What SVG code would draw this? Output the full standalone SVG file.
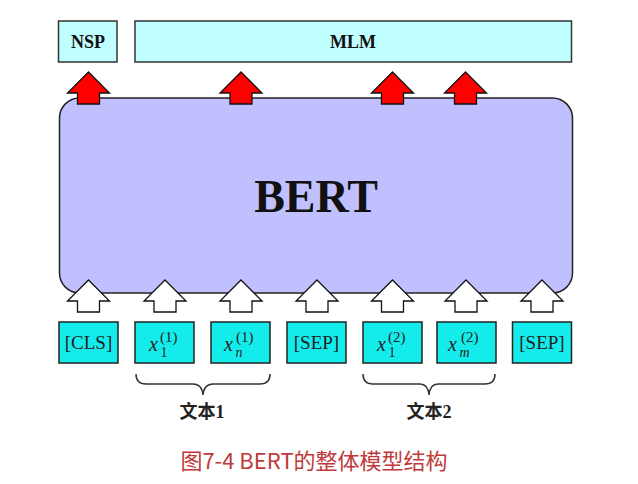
<svg xmlns="http://www.w3.org/2000/svg" xmlns:xlink="http://www.w3.org/1999/xlink" width="638" height="484" viewBox="0 0 638 484">
<style>
.task{fill:#c0ffff;stroke:#333;stroke-width:1.5}
.tok{fill:#14ecec;stroke:#222;stroke-width:1.5}
.bert{fill:#c0c0ff;stroke:#222;stroke-width:1.5}
.tt{font-family:"Liberation Serif",serif;font-weight:bold;fill:#111;text-anchor:middle}
.tk{font-family:"Liberation Serif",serif;font-size:19px;fill:#222;text-anchor:middle}
.mx{font-family:"Liberation Serif",serif;font-style:italic;fill:#222}
.mn{font-family:"Liberation Serif",serif;fill:#222}
.red{fill:#ff0000;stroke:#111;stroke-width:1.3}
.wht{fill:#ffffff;stroke:#111;stroke-width:1.3}
.brace{fill:none;stroke:#333;stroke-width:1.5}
.lbl{font-family:"Liberation Serif","Noto Sans CJK SC",serif;font-weight:bold;font-size:18px;fill:#222;text-anchor:middle}
.cap{font-family:"Noto Sans CJK SC","Noto Sans",sans-serif;font-size:22px;fill:#c0393b;text-anchor:middle}
</style>
<defs>
<path id="arr" d="M0,0 L21,21 L11,21 L11,32 L-11,32 L-11,21 L-21,21 Z"/>
</defs>
<g id="nsp"><rect class="task" x="58.5" y="21" width="58.5" height="41"/><text class="tt" x="88" y="48" font-size="18">NSP</text></g>
<g id="mlm"><rect class="task" x="135" y="21" width="436.5" height="41"/><text class="tt" x="353" y="48" font-size="18">MLM</text></g>
<g id="bert"><rect class="bert" x="59.5" y="98" width="513" height="195" rx="20"/><text class="tt" x="316" y="212" font-size="46">BERT</text></g>
<g id="connectors">
<use href="#arr" class="red" x="88.5" y="72"/>
<use href="#arr" class="red" x="241" y="72"/>
<use href="#arr" class="red" x="392.5" y="72"/>
<use href="#arr" class="red" x="465.5" y="72"/>
<use href="#arr" class="wht" x="88.5" y="280"/>
<use href="#arr" class="wht" x="165" y="280"/>
<use href="#arr" class="wht" x="241" y="280"/>
<use href="#arr" class="wht" x="317" y="280"/>
<use href="#arr" class="wht" x="392.5" y="280"/>
<use href="#arr" class="wht" x="466" y="280"/>
<use href="#arr" class="wht" x="542" y="280"/>
</g>
<g id="cls"><rect class="tok" x="59" y="322" width="59" height="41"/><text class="tk" x="88.5" y="349">[CLS]</text></g>
<g id="x1_1"><rect class="tok" x="135" y="322" width="59" height="41"/><text class="mx" x="149" y="351" font-size="20">x</text><text class="mn" x="160.5" y="357" font-size="14">1</text><text class="mn" x="160" y="342" font-size="15">(1)</text></g>
<g id="xn_1"><rect class="tok" x="211" y="322" width="59" height="41"/><text class="mx" x="224" y="351" font-size="20">x</text><text class="mx" x="235.5" y="357" font-size="14">n</text><text class="mn" x="236" y="342" font-size="15">(1)</text></g>
<g id="sep1"><rect class="tok" x="287" y="322" width="59" height="41"/><text class="tk" x="316.5" y="349">[SEP]</text></g>
<g id="x1_2"><rect class="tok" x="363" y="322" width="59" height="41"/><text class="mx" x="377" y="351" font-size="20">x</text><text class="mn" x="388.5" y="357" font-size="14">1</text><text class="mn" x="388" y="342" font-size="15">(2)</text></g>
<g id="xm_2"><rect class="tok" x="437" y="322" width="59" height="41"/><text class="mx" x="448" y="351" font-size="20">x</text><text class="mx" x="459.5" y="357" font-size="14">m</text><text class="mn" x="461" y="342" font-size="15">(2)</text></g>
<g id="sep2"><rect class="tok" x="512.5" y="322" width="59" height="41"/><text class="tk" x="542" y="349">[SEP]</text></g>
<g id="text1"><path class="brace" d="M136,374 Q136,384 146,384 L193,384 Q202,384 203,395 Q204,384 213,384 L260,384 Q270,384 270,374"/><text class="lbl" x="202" y="418">文本1</text></g>
<g id="text2"><path class="brace" d="M363,374 Q363,384 373,384 L420,384 Q428,384 429,395 Q430,384 438,384 L485,384 Q495,384 495,374"/><text class="lbl" x="429" y="418">文本2</text></g>
<g id="caption"><text class="cap" x="314" y="469">图7-4 BERT的整体模型结构</text></g>
</svg>
